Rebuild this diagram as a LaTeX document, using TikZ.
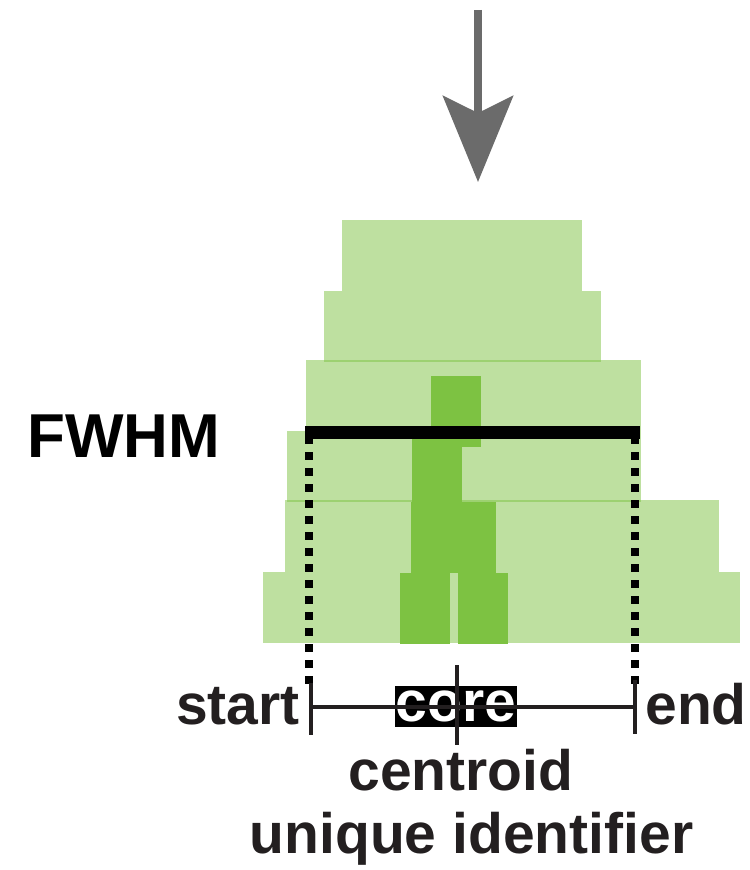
\documentclass[tikz,border=0pt]{standalone}
\usepackage{fontspec}
\setmainfont{Liberation Sans}
\usetikzlibrary{arrows.meta}
\definecolor{readgreen}{RGB}{125,194,66}
\definecolor{inkgray}{RGB}{35,31,32}
\definecolor{arrowgray}{RGB}{107,107,107}
\begin{document}
\begin{tikzpicture}[x=0.5pt, y=-0.5pt,
    read/.style={fill=readgreen, fill opacity=0.5},
    corebar/.style={fill=readgreen},
    dots/.style={line width=4pt, dash pattern=on 4pt off 4pt},
    axis/.style={inkgray, line width=2.2pt},
    lbl/.style={font=\bfseries\fontsize{28.5}{34}\selectfont, text=inkgray, inner sep=0pt}]
    \useasboundingbox (0,0) rectangle (749,870);
    % incoming arrow
    \coordinate (atop) at (478,10);
    \coordinate (atip) at (478,182);
    \draw [arrowgray, line width=4pt, -{Stealth[length=43pt, width=35pt, inset=8.5pt]}] (atop) -- (atip);
    % stacked reads
    \foreach \xa/\ya/\xb/\yb in {342/220/582/291, 324/291/601/362, 306/360/641/431,
                                 287/431/641/502, 285/500/719/572, 263/572/740/643}
        \fill [read] (\xa,\ya) rectangle (\xb,\yb);
    \foreach \xa/\ya/\xb/\yb in {431/376/481/447, 412/431/462/502, 411/502/496/573,
                                 400/573/450/644, 458/573/508/644}
        \fill [corebar] (\xa,\ya) rectangle (\xb,\yb);
    % FWHM bar and its bounds
    \coordinate (fl) at (305,432.5);
    \coordinate (fr) at (640,432.5);
    \draw [line width=6.5pt] (fl) -- (fr);
    \coordinate (dl) at (309,686);
    \coordinate (dr) at (635,686);
    \draw [dots] (309,436) -- (dl);
    \draw [dots] (635,436) -- (dr);
    \node (fwhm) [anchor=base west, inner sep=0pt, font=\bfseries\fontsize{31}{37}\selectfont] at (27,457) {FWHM};
    % core box and axis
    \node (core) [fill=black, text=white, inner sep=0pt, minimum width=61pt, minimum height=20.5pt,
        font=\bfseries\fontsize{28.5}{34}\selectfont] at (456,706.5) {core};
    \coordinate (sl) at (311,707);
    \coordinate (sr) at (635,707);
    \coordinate (sc) at (457,707);
    \draw [axis] (sl) -- (sr);
    \draw [axis] ([yshift=12pt]sl) -- ([yshift=-14pt]sl);
    \draw [axis] ([yshift=13.5pt]sr) -- ([yshift=-13.5pt]sr);
    \draw [axis] ([yshift=21pt]sc) -- ([yshift=-19pt]sc);
    \node (start) [lbl, anchor=base east] at (300,724) {start};
    \node (end) [lbl, anchor=base west] at (645,724) {end};
    \node (centroid) [lbl, anchor=base] at (461,790) {centroid};
    \node (uid) [lbl, anchor=base] at (471.5,853) {unique identifier};
\end{tikzpicture}
\end{document}
